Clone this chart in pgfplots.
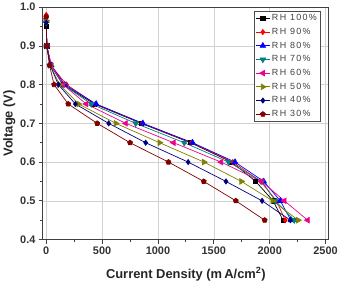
\documentclass[border=0pt]{standalone}
\usepackage{fontspec}
\setmainfont{Liberation Sans}
\newfontfamily\legfont[LetterSpace=15]{Liberation Sans}
\usepackage{pgfplots}
\pgfplotsset{compat=1.18}
\definecolor{cteal}{HTML}{008080}
\definecolor{colive}{HTML}{808000}
\definecolor{cnavy}{HTML}{000080}
\definecolor{cdred}{HTML}{800000}
\begin{document}
\begin{tikzpicture}
\begin{axis}[
  scale only axis,
  width=288pt, height=234pt,
  xmin=-30, xmax=2530, ymin=0.4, ymax=1.0,
  xtick={0,500,...,2500}, ytick={0.4,0.5,...,1.0},
  minor x tick num=1, minor y tick num=1,
  tick align=outside, tick pos=left,
  major tick length=4pt, minor tick length=2.5pt,
  grid=major, major grid style={gray!35, line width=0.6pt},
  axis line style={black!75, line width=0.9pt},
  every tick/.style={black!75, line width=0.8pt},
  /pgf/number format/assume math mode=true,
  yticklabel style={/pgf/number format/.cd, fixed, fixed zerofill, precision=1},
  xticklabel style={/pgf/number format/.cd, fixed, 1000 sep={}},
  ticklabel style={font=\fontsize{11}{13}\selectfont\bfseries, text=black!80},
  xlabel={Current Density (m\,A/cm\textsuperscript{2})},
  ylabel={Voltage (V)},
  label style={font=\fontsize{13}{15}\selectfont\bfseries, text=black!85},
  xlabel style={yshift=-6pt},
  ylabel style={yshift=-2pt},
  legend style={at={(0.97,0.985)}, anchor=north east, draw=black!70, line width=0.8pt,
    font=\legfont\fontsize{9}{10.5}\selectfont, text=black!75, row sep=2pt,
    inner xsep=1pt, inner ysep=1.5pt},
  legend cell align=left,
  legend image code/.code={\draw[mark repeat=2,mark phase=2,#1] plot coordinates {(0cm,0cm) (0.24cm,0cm) (0.48cm,0cm)};},
  every axis plot/.append style={line width=0.7pt, mark size=2.6pt},
  clip=false,
]
\addplot[black, mark=square*, mark size=2.1pt] coordinates {(0,0.95)(5,0.9)(40,0.85)(150,0.8)(430,0.75)(850,0.7)(1290,0.65)(1660,0.6)(1875,0.55)(2030,0.5)(2120,0.45)};
\addlegendentry{RH 100\%}
\addplot[red, mark=diamond*] coordinates {(0,0.98)(5,0.9)(40,0.85)(182,0.8)(440,0.75)(860,0.7)(1300,0.65)(1670,0.6)(1920,0.55)(2060,0.5)(2140,0.45)};
\addlegendentry{RH 90\%}
\addplot[blue, mark=triangle*, mark size=3.2pt] coordinates {(0,0.965)(5,0.9)(45,0.85)(165,0.8)(447,0.75)(865,0.7)(1310,0.65)(1690,0.6)(1947,0.55)(2095,0.5)(2190,0.45)};
\addlegendentry{RH 80\%}
\addplot[cteal, mark=triangle*, mark size=3.2pt, mark options={rotate=180}] coordinates {(0,0.96)(5,0.9)(40,0.85)(150,0.8)(403,0.75)(800,0.7)(1235,0.65)(1632,0.6)(1930,0.55)(2050,0.5)(2220,0.45)};
\addlegendentry{RH 70\%}
\addplot[magenta, mark=triangle*, mark size=3.2pt, mark options={rotate=90}] coordinates {(0,0.97)(5,0.9)(45,0.85)(150,0.8)(358,0.75)(712,0.7)(1140,0.65)(1565,0.6)(1926,0.55)(2132,0.5)(2340,0.45)};
\addlegendentry{RH 60\%}
\addplot[colive, mark=triangle*, mark size=3.2pt, mark options={rotate=-90}] coordinates {(0,0.965)(5,0.9)(35,0.85)(120,0.8)(290,0.75)(623,0.7)(1015,0.65)(1412,0.6)(1747,0.55)(2026,0.5)(2255,0.45)};
\addlegendentry{RH 50\%}
\addplot[cnavy, mark=diamond*] coordinates {(0,0.96)(5,0.9)(35,0.85)(108,0.8)(261,0.75)(559,0.7)(890,0.65)(1270,0.6)(1609,0.55)(1932,0.5)(2185,0.45)};
\addlegendentry{RH 40\%}
\addplot[cdred, mark=pentagon*] coordinates {(0,0.975)(5,0.9)(29,0.85)(70,0.8)(197,0.75)(456,0.7)(750,0.65)(1094,0.6)(1410,0.55)(1697,0.5)(1955,0.45)};
\addlegendentry{RH 30\%}
\end{axis}
\end{tikzpicture}
\end{document}
